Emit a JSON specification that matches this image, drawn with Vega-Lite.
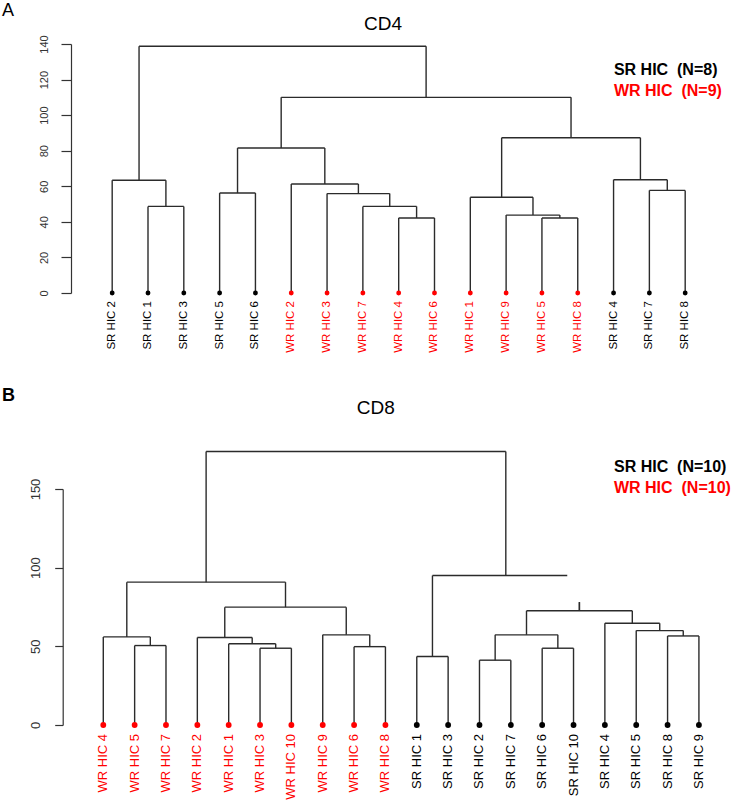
{
  "$schema": "https://vega.github.io/schema/vega-lite/v6.json",
  "padding": {"left": 1, "top": 2, "right": 0, "bottom": 0},
  "background": "white",
  "config": {"view": {"stroke": null}, "font": "Liberation Sans"},
  "spacing": 33,
  "datasets": {
    "cd4_merges": [
      {"lx": 2, "rx": 3, "lh": 0, "rh": 0, "h": 48.7},
      {"lx": 1, "rx": 2.5, "lh": 0, "rh": 48.7, "h": 63.4},
      {"lx": 4, "rx": 5, "lh": 0, "rh": 0, "h": 56.2},
      {"lx": 9, "rx": 10, "lh": 0, "rh": 0, "h": 42.2},
      {"lx": 8, "rx": 9.5, "lh": 0, "rh": 42.2, "h": 48.7},
      {"lx": 7, "rx": 8.75, "lh": 0, "rh": 48.7, "h": 55.9},
      {"lx": 6, "rx": 7.875, "lh": 0, "rh": 55.9, "h": 61.3},
      {"lx": 4.5, "rx": 6.9375, "lh": 56.2, "rh": 61.3, "h": 81.5},
      {"lx": 13, "rx": 14, "lh": 0, "rh": 0, "h": 42.2},
      {"lx": 12, "rx": 13.5, "lh": 0, "rh": 42.2, "h": 43.8},
      {"lx": 11, "rx": 12.75, "lh": 0, "rh": 43.8, "h": 53.8},
      {"lx": 16, "rx": 17, "lh": 0, "rh": 0, "h": 57.7},
      {"lx": 15, "rx": 16.5, "lh": 0, "rh": 57.7, "h": 63.7},
      {"lx": 11.875, "rx": 15.75, "lh": 53.8, "rh": 63.7, "h": 87.3},
      {"lx": 5.71875, "rx": 13.8125, "lh": 81.5, "rh": 87.3, "h": 110},
      {"lx": 1.75, "rx": 9.765625, "lh": 63.4, "rh": 110, "h": 138.7}
    ],
    "cd4_leaves": [
      {"idx": 1, "name": "SR HIC 2", "group": "SR"},
      {"idx": 2, "name": "SR HIC 1", "group": "SR"},
      {"idx": 3, "name": "SR HIC 3", "group": "SR"},
      {"idx": 4, "name": "SR HIC 5", "group": "SR"},
      {"idx": 5, "name": "SR HIC 6", "group": "SR"},
      {"idx": 6, "name": "WR HIC 2", "group": "WR"},
      {"idx": 7, "name": "WR HIC 3", "group": "WR"},
      {"idx": 8, "name": "WR HIC 7", "group": "WR"},
      {"idx": 9, "name": "WR HIC 4", "group": "WR"},
      {"idx": 10, "name": "WR HIC 6", "group": "WR"},
      {"idx": 11, "name": "WR HIC 1", "group": "WR"},
      {"idx": 12, "name": "WR HIC 9", "group": "WR"},
      {"idx": 13, "name": "WR HIC 5", "group": "WR"},
      {"idx": 14, "name": "WR HIC 8", "group": "WR"},
      {"idx": 15, "name": "SR HIC 4", "group": "SR"},
      {"idx": 16, "name": "SR HIC 7", "group": "SR"},
      {"idx": 17, "name": "SR HIC 8", "group": "SR"}
    ],
    "cd4_notes": [
      {"text": "SR HIC\u00a0\u00a0(N=8)", "group": "SR", "x": 15.01, "y": 125.6},
      {"text": "WR HIC\u00a0\u00a0(N=9)", "group": "WR", "x": 15.01, "y": 113.8}
    ],
    "cd8_merges": [
      {"lx": 2, "rx": 3, "lh": 0, "rh": 0, "h": 50.5},
      {"lx": 1, "rx": 2.5, "lh": 0, "rh": 50.5, "h": 56.0},
      {"lx": 6, "rx": 7, "lh": 0, "rh": 0, "h": 48.8},
      {"lx": 5, "rx": 6.5, "lh": 0, "rh": 48.8, "h": 51.6},
      {"lx": 4, "rx": 5.75, "lh": 0, "rh": 51.6, "h": 55.6},
      {"lx": 9, "rx": 10, "lh": 0, "rh": 0, "h": 49.8},
      {"lx": 8, "rx": 9.5, "lh": 0, "rh": 49.8, "h": 57.3},
      {"lx": 4.875, "rx": 8.75, "lh": 55.6, "rh": 57.3, "h": 74.9},
      {"lx": 1.75, "rx": 6.8125, "lh": 56.0, "rh": 74.9, "h": 90.8},
      {"lx": 11, "rx": 12, "lh": 0, "rh": 0, "h": 43.5},
      {"lx": 13, "rx": 14, "lh": 0, "rh": 0, "h": 41.2},
      {"lx": 15, "rx": 16, "lh": 0, "rh": 0, "h": 48.8},
      {"lx": 13.5, "rx": 15.5, "lh": 41.2, "rh": 48.8, "h": 57.3},
      {"lx": 19, "rx": 20, "lh": 0, "rh": 0, "h": 56.6},
      {"lx": 18, "rx": 19.5, "lh": 0, "rh": 56.6, "h": 60.0},
      {"lx": 17, "rx": 18.75, "lh": 0, "rh": 60.0, "h": 64.7},
      {"lx": 14.5, "rx": 17.875, "lh": 57.3, "rh": 64.7, "h": 72.6},
      {"lx": 11.5, "rx": 15.8, "lh": 43.5, "rh": 95.0, "h": 95.0},
      {"lx": 16.1875, "rx": 16.1875, "lh": 72.6, "rh": 72.6, "h": 78.1},
      {"lx": 4.28, "rx": 13.84, "lh": 90.8, "rh": 95.0, "h": 173.8}
    ],
    "cd8_leaves": [
      {"idx": 1, "name": "WR HIC 4", "group": "WR"},
      {"idx": 2, "name": "WR HIC 5", "group": "WR"},
      {"idx": 3, "name": "WR HIC 7", "group": "WR"},
      {"idx": 4, "name": "WR HIC 2", "group": "WR"},
      {"idx": 5, "name": "WR HIC 1", "group": "WR"},
      {"idx": 6, "name": "WR HIC 3", "group": "WR"},
      {"idx": 7, "name": "WR HIC 10", "group": "WR"},
      {"idx": 8, "name": "WR HIC 9", "group": "WR"},
      {"idx": 9, "name": "WR HIC 6", "group": "WR"},
      {"idx": 10, "name": "WR HIC 8", "group": "WR"},
      {"idx": 11, "name": "SR HIC 1", "group": "SR"},
      {"idx": 12, "name": "SR HIC 3", "group": "SR"},
      {"idx": 13, "name": "SR HIC 2", "group": "SR"},
      {"idx": 14, "name": "SR HIC 7", "group": "SR"},
      {"idx": 15, "name": "SR HIC 6", "group": "SR"},
      {"idx": 16, "name": "SR HIC 10", "group": "SR"},
      {"idx": 17, "name": "SR HIC 4", "group": "SR"},
      {"idx": 18, "name": "SR HIC 5", "group": "SR"},
      {"idx": 19, "name": "SR HIC 8", "group": "SR"},
      {"idx": 20, "name": "SR HIC 9", "group": "SR"}
    ],
    "cd8_notes": [
      {"text": "SR HIC\u00a0\u00a0(N=10)", "group": "SR", "x": 17.29, "y": 164.1},
      {"text": "WR HIC\u00a0\u00a0(N=10)", "group": "WR", "x": 17.29, "y": 150.4}
    ]
  },
  "vconcat": [
    {
      "width": 650,
      "height": 249,
      "layer": [
        {
          "data": {"name": "cd4_merges"},
          "mark": {"type": "rule", "color": "#2b2b2b", "strokeWidth": 1.4},
          "encoding": {
            "x": {"field": "lx", "type": "quantitative", "scale": {"domain": [-0.15, 18], "nice": false, "zero": false}, "axis": null},
            "x2": {"field": "rx"},
            "y": {"field": "h", "type": "quantitative", "scale": {"domain": [0, 140], "nice": false},
              "axis": {"values": [0, 20, 40, 60, 80, 100, 120, 140], "tickCount": 20, "labelOverlap": false, "title": null, "grid": false, "labelAngle": -90, "labelFontSize": 11, "labelColor": "#333333", "labelFont": "Liberation Sans", "tickSize": 10, "labelPadding": 12, "domainColor": "#333333", "tickColor": "#333333", "domainWidth": 1.2, "tickWidth": 1.2}}
          }
        },
        {
          "data": {"name": "cd4_merges"},
          "mark": {"type": "rule", "color": "#2b2b2b", "strokeWidth": 1.4},
          "encoding": {
            "x": {"field": "lx", "type": "quantitative"},
            "y": {"field": "lh", "type": "quantitative"},
            "y2": {"field": "h"}
          }
        },
        {
          "data": {"name": "cd4_merges"},
          "mark": {"type": "rule", "color": "#2b2b2b", "strokeWidth": 1.4},
          "encoding": {
            "x": {"field": "rx", "type": "quantitative"},
            "y": {"field": "rh", "type": "quantitative"},
            "y2": {"field": "h"}
          }
        },
        {
          "data": {"name": "cd4_leaves"},
          "mark": {"type": "point", "filled": true, "opacity": 1, "size": 24},
          "encoding": {
            "x": {"field": "idx", "type": "quantitative"},
            "y": {"datum": 0, "type": "quantitative"},
            "color": {"field": "group", "type": "nominal", "scale": {"domain": ["SR", "WR"], "range": ["#000000", "#ff0000"]}, "legend": null}
          }
        },
        {
          "data": {"name": "cd4_leaves"},
          "mark": {"type": "text", "angle": 270, "align": "right", "baseline": "middle", "dx": -8, "fontSize": 11.5, "font": "Liberation Sans"},
          "encoding": {
            "x": {"field": "idx", "type": "quantitative"},
            "y": {"datum": 0, "type": "quantitative"},
            "text": {"field": "name"},
            "color": {"field": "group", "type": "nominal", "scale": {"domain": ["SR", "WR"], "range": ["#000000", "#ff0000"]}, "legend": null}
          }
        },
        {
          "data": {"name": "cd4_notes"},
          "mark": {"type": "text", "align": "left", "baseline": "middle", "fontSize": 16, "fontWeight": "bold", "font": "Liberation Sans"},
          "encoding": {
            "x": {"field": "x", "type": "quantitative"},
            "y": {"field": "y", "type": "quantitative"},
            "text": {"field": "text"},
            "color": {"field": "group", "type": "nominal", "scale": {"domain": ["SR", "WR"], "range": ["#000000", "#ff0000"]}, "legend": null}
          }
        },
        {
          "data": {"values": [{"label": "CD4", "x": 8.563, "y": 151.1}]},
          "mark": {"type": "text", "align": "center", "baseline": "middle", "fontSize": 19, "color": "#000000", "font": "Liberation Sans"},
          "encoding": {
            "x": {"field": "x", "type": "quantitative"},
            "y": {"field": "y", "type": "quantitative"},
            "text": {"field": "label"}
          }
        },
        {
          "data": {"values": [{"label": "A", "x": -2.077, "y": 158.4}]},
          "mark": {"type": "text", "align": "left", "baseline": "middle", "fontSize": 18, "color": "#000000", "font": "Liberation Sans"},
          "encoding": {
            "x": {"field": "x", "type": "quantitative"},
            "y": {"field": "y", "type": "quantitative"},
            "text": {"field": "label"}
          }
        }
      ]
    },
    {
      "width": 653,
      "height": 236,
      "layer": [
        {
          "data": {"name": "cd8_merges"},
          "mark": {"type": "rule", "color": "#2b2b2b", "strokeWidth": 1.4},
          "encoding": {
            "x": {"field": "lx", "type": "quantitative", "scale": {"domain": [-0.03, 20.8], "nice": false, "zero": false}, "axis": null},
            "x2": {"field": "rx"},
            "y": {"field": "h", "type": "quantitative", "scale": {"domain": [0, 150], "nice": false},
              "axis": {"values": [0, 50, 100, 150], "tickCount": 20, "labelOverlap": false, "offset": 8.3, "title": null, "grid": false, "labelAngle": -90, "labelFontSize": 13, "labelColor": "#333333", "labelFont": "Liberation Sans", "tickSize": 8, "labelPadding": 12, "domainColor": "#333333", "tickColor": "#333333", "domainWidth": 1.2, "tickWidth": 1.2}}
          }
        },
        {
          "data": {"name": "cd8_merges"},
          "mark": {"type": "rule", "color": "#2b2b2b", "strokeWidth": 1.4},
          "encoding": {
            "x": {"field": "lx", "type": "quantitative"},
            "y": {"field": "lh", "type": "quantitative"},
            "y2": {"field": "h"}
          }
        },
        {
          "data": {"name": "cd8_merges"},
          "mark": {"type": "rule", "color": "#2b2b2b", "strokeWidth": 1.4},
          "encoding": {
            "x": {"field": "rx", "type": "quantitative"},
            "y": {"field": "rh", "type": "quantitative"},
            "y2": {"field": "h"}
          }
        },
        {
          "data": {"name": "cd8_leaves"},
          "mark": {"type": "point", "filled": true, "opacity": 1, "size": 34},
          "encoding": {
            "x": {"field": "idx", "type": "quantitative"},
            "y": {"datum": 0, "type": "quantitative"},
            "color": {"field": "group", "type": "nominal", "scale": {"domain": ["SR", "WR"], "range": ["#000000", "#ff0000"]}, "legend": null}
          }
        },
        {
          "data": {"name": "cd8_leaves"},
          "mark": {"type": "text", "angle": 270, "align": "right", "baseline": "middle", "dx": -9, "fontSize": 13, "font": "Liberation Sans"},
          "encoding": {
            "x": {"field": "idx", "type": "quantitative"},
            "y": {"datum": 0, "type": "quantitative"},
            "text": {"field": "name"},
            "color": {"field": "group", "type": "nominal", "scale": {"domain": ["SR", "WR"], "range": ["#000000", "#ff0000"]}, "legend": null}
          }
        },
        {
          "data": {"name": "cd8_notes"},
          "mark": {"type": "text", "align": "left", "baseline": "middle", "fontSize": 16, "fontWeight": "bold", "font": "Liberation Sans"},
          "encoding": {
            "x": {"field": "x", "type": "quantitative"},
            "y": {"field": "y", "type": "quantitative"},
            "text": {"field": "text"},
            "color": {"field": "group", "type": "nominal", "scale": {"domain": ["SR", "WR"], "range": ["#000000", "#ff0000"]}, "legend": null}
          }
        },
        {
          "data": {"values": [{"label": "CD8", "x": 9.693, "y": 201.5}]},
          "mark": {"type": "text", "align": "center", "baseline": "middle", "fontSize": 19, "color": "#000000", "font": "Liberation Sans"},
          "encoding": {
            "x": {"field": "x", "type": "quantitative"},
            "y": {"field": "y", "type": "quantitative"},
            "text": {"field": "label"}
          }
        },
        {
          "data": {"values": [{"label": "B", "x": -2.23, "y": 209.3}]},
          "mark": {"type": "text", "align": "left", "baseline": "middle", "fontSize": 18, "fontWeight": "bold", "color": "#000000", "font": "Liberation Sans"},
          "encoding": {
            "x": {"field": "x", "type": "quantitative"},
            "y": {"field": "y", "type": "quantitative"},
            "text": {"field": "label"}
          }
        }
      ]
    }
  ]
}
